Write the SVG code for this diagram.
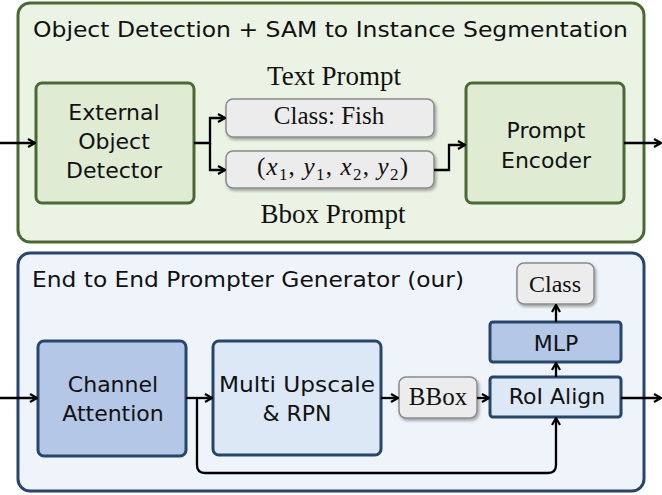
<svg xmlns="http://www.w3.org/2000/svg" width="662" height="495" viewBox="0 0 662 495">
<defs>
<style>
.sans{font-family:"DejaVu Sans","Noto Sans",sans-serif;fill:#111}
.node{font-size:22px;text-anchor:middle}
.serif{font-family:"Liberation Serif","DejaVu Serif",serif;fill:#111}
.conn{fill:none;stroke:#000;stroke-width:2.3}
.gout{fill:#ebf3e4;stroke:#4b6a33;stroke-width:3}
.gnode{fill:#dfebd3;stroke:#4b6a33;stroke-width:3}
.bout{fill:#eff4fb;stroke:#27466d;stroke-width:3}
.bdark{fill:#b4c7e6;stroke:#27466d;stroke-width:3}
.blight{fill:#dce8f5;stroke:#27466d;stroke-width:3}
.grey{fill:#ececec;stroke:#8a8a8a;stroke-width:1.5;filter:url(#sh)}
</style>
<filter id="sh" x="-10%" y="-20%" width="130%" height="150%">
<feDropShadow dx="1.5" dy="2" stdDeviation="1.5" flood-color="#000" flood-opacity="0.35"/>
</filter>
<marker id="ah" viewBox="0 0 10 10" refX="9" refY="5" markerWidth="10" markerHeight="10" orient="auto" markerUnits="userSpaceOnUse">
<path d="M2,1 L9,5 L2,9" fill="none" stroke="#000" stroke-width="2.2"/>
</marker>
</defs>

<g id="panel-top">
<rect class="gout" x="18" y="3" width="626" height="239" rx="12"/>
<text class="sans" x="33" y="37" font-size="22" textLength="595" lengthAdjust="spacingAndGlyphs">Object Detection + SAM to Instance Segmentation</text>
</g>
<g id="panel-bottom">
<rect class="bout" x="18" y="253" width="626" height="238" rx="12"/>
<text class="sans" x="32" y="287" font-size="22" textLength="432" lengthAdjust="spacingAndGlyphs">End to End Prompter Generator (our)</text>
</g>

<g id="detector">
<rect class="gnode" x="36" y="83" width="158" height="120" rx="6"/>
<text class="sans node" x="114" y="120">External</text>
<text class="sans node" x="114" y="149">Object</text>
<text class="sans node" x="114" y="178">Detector</text>
</g>
<g id="text-prompt">
<text class="serif" x="334" y="85" font-size="27" text-anchor="middle">Text Prompt</text>
<rect class="grey" x="226" y="99" width="208" height="38" rx="7"/>
<text class="serif" x="329" y="124" font-size="25" text-anchor="middle">Class: Fish</text>
</g>
<g id="bbox-prompt">
<rect class="grey" x="226" y="151" width="208" height="37" rx="7"/>
<text class="serif" x="257" y="175" font-size="25" textLength="151" lengthAdjust="spacing">(<tspan font-style="italic">x</tspan><tspan font-size="17" dy="5">1</tspan><tspan dy="-5">, </tspan><tspan font-style="italic">y</tspan><tspan font-size="17" dy="5">1</tspan><tspan dy="-5">, </tspan><tspan font-style="italic">x</tspan><tspan font-size="17" dy="5">2</tspan><tspan dy="-5">, </tspan><tspan font-style="italic">y</tspan><tspan font-size="17" dy="5">2</tspan><tspan dy="-5">)</tspan></text>
<text class="serif" x="333" y="223" font-size="27" text-anchor="middle">Bbox Prompt</text>
</g>
<g id="prompt-encoder">
<rect class="gnode" x="466" y="83" width="158" height="120" rx="6"/>
<text class="sans node" x="546" y="138">Prompt</text>
<text class="sans node" x="546" y="168">Encoder</text>
</g>

<g id="channel-attention">
<rect class="bdark" x="38" y="341" width="148" height="115" rx="6"/>
<text class="sans node" x="113" y="392">Channel</text>
<text class="sans node" x="113" y="421">Attention</text>
</g>
<g id="multi-upscale">
<rect class="blight" x="213" y="341" width="168" height="114" rx="6"/>
<text class="sans node" x="297" y="392" textLength="156" lengthAdjust="spacingAndGlyphs">Multi Upscale</text>
<text class="sans node" x="297" y="421">&amp; RPN</text>
</g>
<g id="bbox">
<rect class="grey" x="399" y="377" width="78" height="41" rx="7"/>
<text class="serif" x="438" y="405" font-size="25" text-anchor="middle">BBox</text>
</g>
<g id="roi-align">
<rect class="blight" x="490" y="377" width="131" height="40" rx="3"/>
<text class="sans node" x="557" y="404">RoI Align</text>
</g>
<g id="mlp">
<rect class="bdark" x="490" y="322" width="131" height="40" rx="3"/>
<text class="sans node" x="556" y="351">MLP</text>
</g>
<g id="class">
<rect class="grey" x="517" y="263" width="77" height="41" rx="7"/>
<text class="serif" x="555" y="292" font-size="24" text-anchor="middle">Class</text>
</g>

<g id="connectors">
<path class="conn" d="M0,143 H35" marker-end="url(#ah)"/>
<path class="conn" d="M194,143 H210 V118 H225" marker-end="url(#ah)"/>
<path class="conn" d="M210,143 V170 H225" marker-end="url(#ah)"/>
<path class="conn" d="M434,170 H449 V145 H465" marker-end="url(#ah)"/>
<path class="conn" d="M624,143 H661" marker-end="url(#ah)"/>
<path class="conn" d="M0,398 H37" marker-end="url(#ah)"/>
<path class="conn" d="M186,398 H212" marker-end="url(#ah)"/>
<path class="conn" d="M197,398 V465 Q197,473 205,473 H548 Q556,473 556,465 V418" marker-end="url(#ah)"/>
<path class="conn" d="M381,398 H398" marker-end="url(#ah)"/>
<path class="conn" d="M477,398 H489" marker-end="url(#ah)"/>
<path class="conn" d="M621,398 H661" marker-end="url(#ah)"/>
<path class="conn" d="M556,377 V363" marker-end="url(#ah)"/>
<path class="conn" d="M556,322 V305" marker-end="url(#ah)"/>
</g>
</svg>
